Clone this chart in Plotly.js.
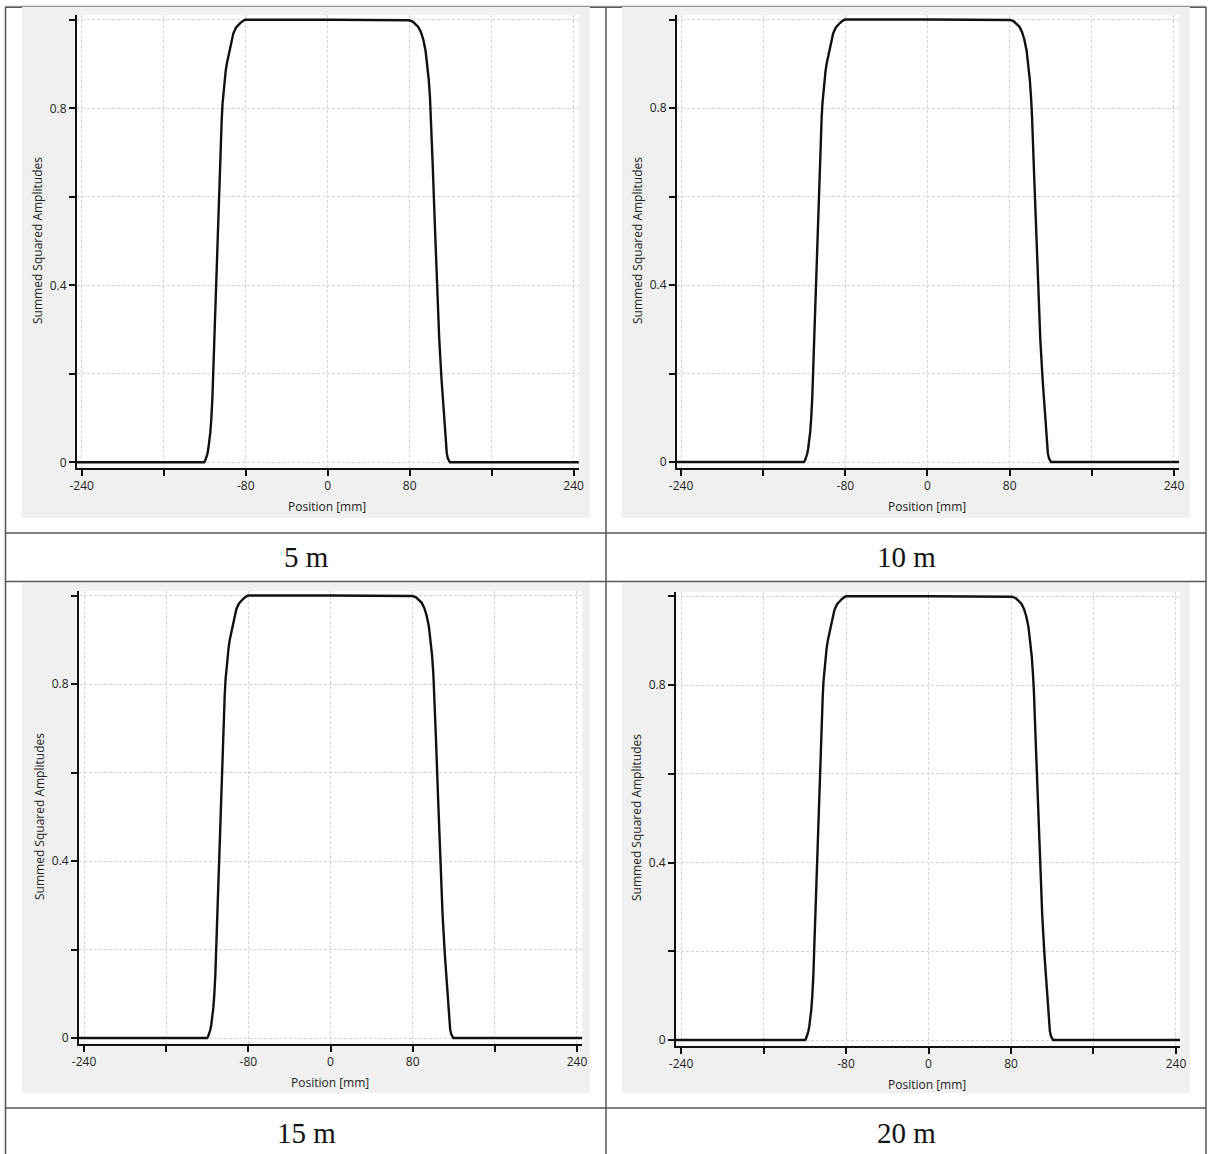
<!DOCTYPE html>
<html>
<head>
<meta charset="utf-8">
<script src="https://cdn.plot.ly/plotly-3.0.1.min.js"></script>
<style>
html,body{margin:0;padding:0;background:#ffffff;}
#chart{width:1210px;height:1154px;}
</style>
</head>
<body>
<div id="chart"></div>
<script>
// ---- data ----
const xTickVals = [-240, -160, -80, 0, 80, 160, 240];
const xTickText = ['-240', '', '-80', '0', '80', '', '240'];
const yTickVals = [0, 0.2, 0.4, 0.6, 0.8, 1.0];
const yTickText = ['0', '', '0.4', '', '0.8', ''];
const cellLabels = ['5 m', '10 m', '15 m', '20 m'];
const xTitle = 'Position [mm]';
const yTitle = 'Summed Squared Amplitudes';

// profile values shared by all four panels (summed squared amplitude along each edge)
const riseAmp = [0,0,0.004,0.01,0.018,0.03,0.046,0.068,0.1,0.145,0.25,0.4,0.6,0.72,0.775,0.81,0.838,0.862,0.883,0.9,0.93,0.953,0.969,0.982,0.988,0.992,0.997,1.0,1.0];
const fallAmp = [0.999,0.996,0.99,0.984,0.972,0.955,0.93,0.9,0.865,0.825,0.78,0.67,0.54,0.4,0.28,0.19,0.135,0.095,0.062,0.038,0.02,0.009,0.003,0,0];

// positions [mm] of those values, per distance
const pos5 = [-245,-120.5,-119.5,-118.5,-117.5,-116.5,-115.5,-114.5,-113.5,-112.5,-111,-109,-106,-104.3,-103.4,-102.6,-101.7,-100.7,-99.6,-98.5,-96,-94,-92.1,-89.5,-87.5,-85.6,-83,-80.7,0,
              79.5,83,86,88.4,91,93.3,95.5,97.2,98.6,99.8,100.8,102.5,104.5,106.6,108.8,111,112.8,113.8,114.6,115.4,116.2,117.2,118.3,119.3,245];
const pos10 = [-245,-120.2,-119.2,-118.2,-117.2,-116.2,-115.2,-114.2,-113.2,-112.2,-110.7,-108.7,-105.7,-104,-103.1,-102.3,-101.4,-100.4,-99.3,-98.2,-95.7,-93.7,-91.8,-89.2,-87.2,-85.3,-82.7,-80.4,0,
              80.5,84,87,89.4,92,94.3,96.5,98.2,99.6,100.8,101.8,103.5,105.5,107.6,109.8,112,113.8,114.8,115.6,116.4,117.2,118.2,119.3,120.3,245];
const pos15 = [-245,-120.1,-119.1,-118.1,-117.1,-116.1,-115.1,-114.1,-113.1,-112.1,-110.6,-108.6,-105.6,-103.9,-103,-102.2,-101.3,-100.3,-99.2,-98.1,-95.6,-93.6,-91.7,-89.1,-87.1,-85.2,-82.6,-80.3,0,
              79.8,83.3,86.3,88.7,91.3,93.6,95.8,97.5,98.9,100.1,101.1,102.8,104.8,106.9,109.1,111.3,113.1,114.1,114.9,115.7,116.5,117.5,118.6,119.6,245];
const pos20 = [-245,-119.7,-118.7,-117.7,-116.7,-115.7,-114.7,-113.7,-112.7,-111.7,-110.2,-108.2,-105.2,-103.5,-102.6,-101.8,-100.9,-99.9,-98.8,-97.7,-95.2,-93.2,-91.3,-88.7,-86.7,-84.8,-82.2,-79.9,0,
              81,84.5,87.5,89.9,92.5,94.8,97,98.7,100.1,101.3,102.3,104,106,108.1,110.3,112.5,114.3,115.3,116.1,116.9,117.7,118.7,119.8,120.8,245];

const amp5 = riseAmp.concat(fallAmp);
const amp10 = riseAmp.concat(fallAmp);
const amp15 = riseAmp.concat(fallAmp);
const amp20 = riseAmp.concat(fallAmp);

const seriesX = [pos5, pos10, pos15, pos20];
const seriesY = [amp5, amp10, amp15, amp20];

// ---- layout geometry (pixels) ----
const W = 1210, H = 1154;
const fx = p => p / W;
const fy = p => 1 - p / H;

const panels = [
  {plot:[77,579,15,467.7],    xr:[-244.6,245.2], yr:[-0.0122,1.0109], grey:[22,590,7,518],     xt:[327,506],  yt:[37,241],  lab:[306,557]},
  {plot:[677,1179,15,467.5],  xr:[-243.9,244.9], yr:[-0.0124,1.0102], grey:[622,1190,7,518],   xt:[927,506],  yt:[637,241], lab:[906,557]},
  {plot:[79,582,591,1043.5],  xr:[-244.9,244.9], yr:[-0.0124,1.0102], grey:[22,590,583,1093],  xt:[330,1082], yt:[39,817],  lab:[306,1133]},
  {plot:[676,1180,592,1045.5],xr:[-244.9,243.9], yr:[-0.0124,1.0096], grey:[622,1190,583,1093],xt:[927,1084], yt:[636,818], lab:[906,1133]}
];

const tickFont = {family:'Open Sans, Noto Sans, sans-serif', size:12, color:'#222'};
const traces = [];
const layout = {
  width: W, height: H,
  margin: {l:0, r:0, t:0, b:0, pad:0},
  paper_bgcolor: '#ffffff',
  plot_bgcolor: '#ffffff',
  showlegend: false,
  shapes: [],
  annotations: []
};

const lineCol = '#555555';
layout.shapes.push({type:'line', xref:'paper', yref:'paper', x0:fx(5), x1:fx(1206), y0:fy(7), y1:fy(7), line:{color:'#222', width:1.5}, layer:'below'});

panels.forEach((p, i) => {
  const n = i + 1;
  const sfx = (n === 1 ? '' : String(n));
  layout['xaxis' + sfx] = {
    domain: [fx(p.plot[0]), fx(p.plot[1])],
    anchor: 'y' + sfx,
    range: p.xr, fixedrange: true,
    tickmode: 'array', tickvals: xTickVals, ticktext: xTickText,
    ticks: 'outside', ticklen: 6, tickwidth: 2, tickcolor: '#111',
    showline: true, linecolor: '#111', linewidth: 2,
    showgrid: true, gridcolor: '#d4d4d4', gridwidth: 1, griddash: '3px,2px',
    zeroline: false, tickfont: tickFont
  };
  layout['yaxis' + sfx] = {
    domain: [fy(p.plot[3]), fy(p.plot[2])],
    anchor: 'x' + sfx,
    range: p.yr, fixedrange: true,
    tickmode: 'array', tickvals: yTickVals, ticktext: yTickText,
    ticks: 'outside', ticklen: 6, tickwidth: 2, tickcolor: '#111',
    showline: true, linecolor: '#111', linewidth: 2,
    showgrid: true, gridcolor: '#d4d4d4', gridwidth: 1, griddash: '3px,2px',
    zeroline: false, tickfont: tickFont
  };
  traces.push({
    type: 'scatter', mode: 'lines',
    x: seriesX[i], y: seriesY[i],
    xaxis: 'x' + sfx, yaxis: 'y' + sfx,
    line: {color: '#111111', width: 2.4},
    hoverinfo: 'skip'
  });
  layout.shapes.push({type:'rect', xref:'paper', yref:'paper',
    x0:fx(p.grey[0]), x1:fx(p.grey[1]), y0:fy(p.grey[3]), y1:fy(p.grey[2]),
    fillcolor:'#f0f0f0', line:{width:0}, layer:'below'});
  layout.shapes.push({type:'rect', xref:'paper', yref:'paper',
    x0:fx(p.plot[0]), x1:fx(p.plot[1]), y0:fy(p.plot[3]), y1:fy(p.plot[2]),
    fillcolor:'#ffffff', line:{width:0}, layer:'below'});
  layout.annotations.push({xref:'paper', yref:'paper', x:fx(p.xt[0]), y:fy(p.xt[1]),
    text:xTitle, showarrow:false, xanchor:'center', yanchor:'middle',
    font:{family:'Open Sans, Noto Sans, sans-serif', size:12, color:'#222'}});
  layout.annotations.push({xref:'paper', yref:'paper', x:fx(p.yt[0]), y:fy(p.yt[1]),
    text:yTitle, showarrow:false, textangle:-90, xanchor:'center', yanchor:'middle',
    font:{family:'Open Sans, Noto Sans, sans-serif', size:12, color:'#222'}});
  layout.annotations.push({xref:'paper', yref:'paper', x:fx(p.lab[0]), y:fy(p.lab[1]),
    text:cellLabels[i], showarrow:false, xanchor:'center', yanchor:'middle',
    font:{family:'Liberation Serif, DejaVu Serif, serif', size:29, color:'#111'}});
});

layout.shapes.push({type:'line', xref:'paper', yref:'paper', x0:fx(5), x1:fx(1206), y0:fy(6), y1:fy(6), line:{color:'#cfcfcf', width:1}, layer:'below'});
[5.5, 606, 1206].forEach(x => layout.shapes.push({type:'line', xref:'paper', yref:'paper', x0:fx(x), x1:fx(x), y0:fy(7), y1:fy(1154), line:{color:lineCol, width:1.5}, layer:'below'}));
[533, 581.5, 1108].forEach(y => layout.shapes.push({type:'line', xref:'paper', yref:'paper', x0:fx(5), x1:fx(1206), y0:fy(y), y1:fy(y), line:{color:lineCol, width:1.5}, layer:'below'}));

Plotly.newPlot('chart', traces, layout, {displayModeBar:false, staticPlot:true});
</script>
</body>
</html>
